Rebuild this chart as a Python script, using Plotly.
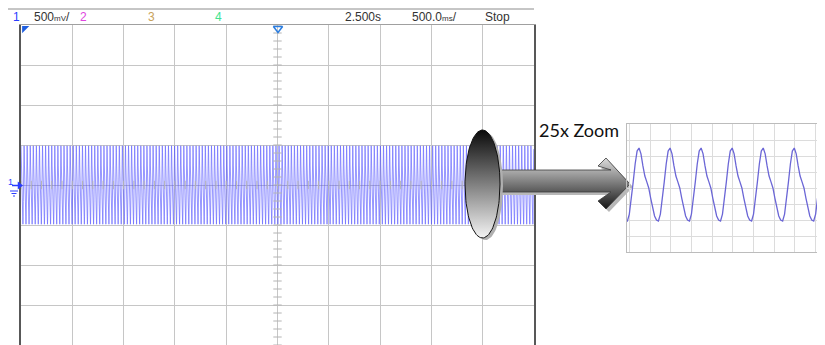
import numpy as np
import plotly.graph_objects as go

# page body has an 8px margin: the figure is drawn from window (8, 8)
OFF = 8
WIN_W, WIN_H = 825, 345
W, H = WIN_W - OFF, WIN_H - OFF

# ---------------- data ----------------
header_labels = ["1", "500<span style='font-size:8px'>mV</span>/", "2", "3", "4",
                 "2.500s", "500.0<span style='font-size:8px'>ms</span>/", "Stop"]
header_colors = ["#2a3cff", "#333333", "#e044e0", "#c9a25a", "#41e38f",
                 "#333333", "#333333", "#333333"]

# one period of the signal as seen in the 25x zoom window (divisions of the zoom grid),
# 16 samples starting at a peak
zoom_cycle_div = [2.50, 2.13, 1.38, 0.75, 0.38, 0.00, -0.63, -1.25,
                  -1.75, -2.00, -2.06, -1.63, -0.75, 0.38, 1.50, 2.31]
zoom_first_peak_div = 0.47      # position of the first peak in the zoom window (div)
zoom_period_div = 1.50          # period in the zoom window (div)
zoom_cycles_shown = 8

# main screen: number of periods across the 10 divisions (25x the zoom window)
main_cycles = 167
main_scale = 0.43
main_center = 0.22

zoom_label = "25x Zoom"


def fx(X):
    return (X - OFF) / W


def fy(Y):
    return 1 - (Y - OFF) / H


PX_L, PX_R, PX_T, PX_B = 21, 534, 25, 345
Z_L, Z_T, Z_B = 627, 124, 252
Z_DIV = 20.7
z_x0 = 1 - (650 - Z_L) / Z_DIV

fig = go.Figure()

# main trace
n = len(zoom_cycle_div)
main_y = np.tile((np.array(zoom_cycle_div) - main_center) * main_scale, main_cycles)
main_x = np.arange(main_cycles * n) / (main_cycles * n) * 10
fig.add_trace(go.Scatter(x=main_x, y=main_y, mode="lines",
                         line=dict(color="#4646ff", width=0.7), opacity=0.8,
                         hoverinfo="skip", xaxis="x", yaxis="y"))

# center-line ticks of the main screen
cy = np.arange(-4, 4.01, 0.2)
fig.add_trace(go.Scatter(x=np.full(cy.size, 5.0), y=cy, mode="markers",
                         marker=dict(symbol="line-ew", size=6, line=dict(color="#b4b4b4", width=1)),
                         hoverinfo="skip", xaxis="x", yaxis="y"))
cx = np.arange(0, 10.01, 0.2)
fig.add_trace(go.Scatter(x=cx, y=np.zeros(cx.size), mode="markers",
                         marker=dict(symbol="line-ns", size=6, line=dict(color="#b4b4b4", width=1)),
                         hoverinfo="skip", xaxis="x", yaxis="y"))

# zoom trace
zk = np.arange(-1, zoom_cycles_shown)
zx = (zoom_first_peak_div + (zk[:, None] + np.arange(n)[None, :] / n) * zoom_period_div).ravel()
zy = np.tile(zoom_cycle_div, zk.size)
fig.add_trace(go.Scatter(x=zx, y=zy, mode="lines", line=dict(color="#6b66d6", width=1.3),
                         hoverinfo="skip", xaxis="x3", yaxis="y3"))

# arrow (window pixel coordinates)
arrow_px = [(492, 170), (611, 170), (598, 166), (606, 158), (630, 184),
            (606, 209), (598, 201), (611, 192), (492, 192), (492, 170)]
ax_ = [p[0] for p in arrow_px]
ay_ = [p[1] for p in arrow_px]
fig.add_trace(go.Scatter(x=[v + 3 for v in ax_], y=[v + 3 for v in ay_], mode="lines", fill="toself",
                         fillcolor="#b8b8b8", line=dict(width=0, color="#b8b8b8"),
                         hoverinfo="skip", xaxis="x2", yaxis="y2"))
fig.add_trace(go.Scatter(x=ax_, y=ay_, mode="lines", fill="toself",
                         fillgradient=dict(type="vertical", start=158, stop=209,
                                           colorscale=[[0, "#dcdcdc"], [1, "#161616"]]),
                         line=dict(width=0.8, color="#3a3a3a"),
                         hoverinfo="skip", xaxis="x2", yaxis="y2"))

# ellipse
t = np.linspace(0, 2 * np.pi, 121)
ecx, ecy, erx, ery = 482.5, 184, 17.5, 54
fig.add_trace(go.Scatter(x=ecx + 3 + erx * np.cos(t), y=ecy + 2 + ery * np.sin(t), mode="lines",
                         fill="toself", fillcolor="#b0b0b0", line=dict(width=0, color="#b0b0b0"),
                         hoverinfo="skip", xaxis="x2", yaxis="y2"))
fig.add_trace(go.Scatter(x=ecx + erx * np.cos(t), y=ecy + ery * np.sin(t), mode="lines",
                         fill="toself",
                         fillgradient=dict(type="vertical", start=ecy - ery, stop=ecy + ery,
                                           colorscale=[[0, "#0a0a0a"], [1, "#f4f4f4"]]),
                         line=dict(width=1, color="#111111"),
                         hoverinfo="skip", xaxis="x2", yaxis="y2"))

# small scope markers
fig.add_trace(go.Scatter(x=[24.5], y=[28.5], mode="markers",
                         marker=dict(symbol="triangle-nw", size=8, color="#1f5fe0"),
                         hoverinfo="skip", xaxis="x2", yaxis="y2"))
fig.add_trace(go.Scatter(x=[278], y=[28.5], mode="markers",
                         marker=dict(symbol="triangle-down-open", size=8, color="#2a7de0",
                                     line=dict(color="#2a7de0", width=1.5)),
                         hoverinfo="skip", xaxis="x2", yaxis="y2"))
fig.add_trace(go.Scatter(x=[19.5], y=[185.5], mode="markers",
                         marker=dict(symbol="triangle-right", size=7, color="#2a3cff"),
                         hoverinfo="skip", xaxis="x2", yaxis="y2"))

shapes = [
    dict(type="line", xref="x2", yref="y2", x0=OFF, x1=PX_R, y0=9, y1=9,
         line=dict(color="#8c8c8c", width=1)),
    dict(type="line", xref="x2", yref="y2", x0=12, x1=19, y0=185.5, y1=185.5,
         line=dict(color="#2a3cff", width=1.5)),
    dict(type="line", xref="x2", yref="y2", x0=10, x1=18, y0=191, y1=191,
         line=dict(color="#2a3cff", width=1)),
    dict(type="line", xref="x2", yref="y2", x0=11.5, x1=16.5, y0=193.5, y1=193.5,
         line=dict(color="#2a3cff", width=1)),
    dict(type="line", xref="x2", yref="y2", x0=13, x1=15, y0=196, y1=196,
         line=dict(color="#2a3cff", width=1)),
]

header_x = [11, 32, 78, 146, 213, 343, 410, 483]
ann = []
for lab, col, xx in zip(header_labels, header_colors, header_x):
    ann.append(dict(x=xx, y=16.5, xref="x2", yref="y2", text=lab, showarrow=False,
                    xanchor="left", yanchor="middle",
                    font=dict(family="Liberation Sans, Arial", size=12, color=col)))
ann.append(dict(x=10.5, y=182, xref="x2", yref="y2", text="1", showarrow=False,
                xanchor="center", yanchor="middle",
                font=dict(family="Liberation Sans, Arial", size=9, color="#2a3cff")))
ann.append(dict(x=537, y=130, xref="x2", yref="y2", text=zoom_label, showarrow=False,
                xanchor="left", yanchor="middle",
                font=dict(family="Lato, Open Sans, sans-serif", size=18, color="#111111")))

fig.update_layout(
    width=W, height=H, margin=dict(l=0, r=0, t=0, b=0),
    paper_bgcolor="white", plot_bgcolor="rgba(0,0,0,0)", showlegend=False,
    shapes=shapes, annotations=ann,
    xaxis=dict(domain=[fx(PX_L), fx(PX_R)], range=[0, 10], dtick=1, tick0=0,
               showgrid=True, gridcolor="#c6c6c6", gridwidth=1, zeroline=False,
               showticklabels=False, ticks="", side="top", showline=True,
               linecolor="#a0a0a0", linewidth=1, anchor="y", fixedrange=True),
    yaxis=dict(domain=[fy(PX_B), fy(PX_T)], range=[-4, 4], dtick=1, tick0=0,
               showgrid=True, gridcolor="#c6c6c6", gridwidth=1, zeroline=False,
               showticklabels=False, ticks="", showline=True, linecolor="#585858",
               linewidth=2, mirror=True, anchor="x", fixedrange=True),
    xaxis2=dict(domain=[0, 1], range=[OFF, WIN_W], visible=False, anchor="y2", fixedrange=True),
    yaxis2=dict(domain=[0, 1], range=[WIN_H, OFF], visible=False, anchor="x2", fixedrange=True),
    xaxis3=dict(domain=[fx(Z_L), 1], range=[z_x0, z_x0 + (WIN_W - Z_L) / Z_DIV], dtick=1, tick0=0,
                showgrid=True, gridcolor="#dcdcdc", zeroline=False, showticklabels=False,
                ticks="", showline=True, linecolor="#bcbcbc", mirror=True, anchor="y3",
                fixedrange=True),
    yaxis3=dict(domain=[fy(Z_B), fy(Z_T)], range=[-4, 4], dtick=1, tick0=0,
                showgrid=True, gridcolor="#dcdcdc", zeroline=False, showticklabels=False,
                ticks="", showline=True, linecolor="#bcbcbc", anchor="x3", fixedrange=True),
)

fig.write_html("out.html")
